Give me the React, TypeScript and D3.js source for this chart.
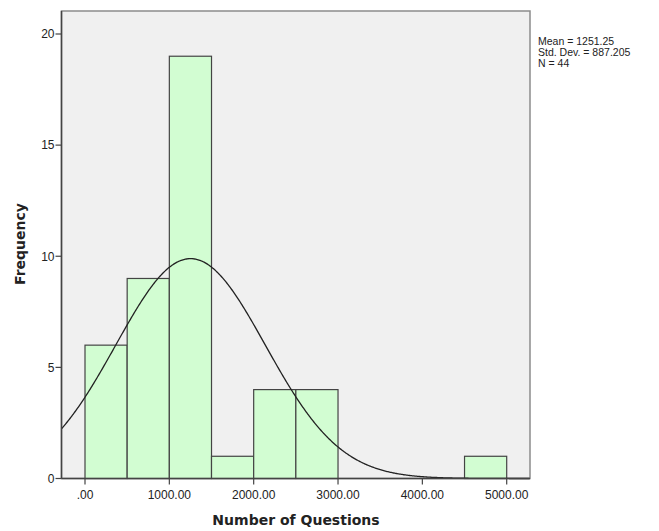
import React from "react";
import * as d3 from "d3";

const binStarts = [0, 500, 1000, 1500, 2000, 2500, 4500];
const binCounts = [6, 9, 19, 1, 4, 4, 1];
const binWidth = 500;
const xTicks = [0, 1000, 2000, 3000, 4000, 5000];
const yTicks = [0, 5, 10, 15, 20];
const meanValue = 1251.25;
const sdValue = 887.205;
const nValue = 44;
const legendLines = ["Mean = 1251.25", "Std. Dev. = 887.205", "N = 44"];

const W = 659, H = 531;
const left = 61.5, right = 530, top = 11, bottom = 478.5;

export default function App() {
  const x = d3.scaleLinear().domain([0, 5000]).range([85, 506.7]);
  const y = d3.scaleLinear().domain([0, 20]).range([bottom, 34]);
  const xMin = x.invert(left), xMax = x.invert(right);
  const pdf = (v: number) =>
    (nValue * binWidth) / (sdValue * Math.sqrt(2 * Math.PI)) *
    Math.exp(-0.5 * ((v - meanValue) / sdValue) ** 2);
  const pts = d3.range(xMin, xMax, 10).map((v) => [v, pdf(v)] as [number, number]);
  const line = d3.line<[number, number]>().x((d) => x(d[0])).y((d) => y(d[1]));
  const font = "'Liberation Sans', Arial, sans-serif";
  const boldFont = "'DejaVu Sans', Verdana, sans-serif";
  return (
    <svg width={W} height={H} style={{ position: "absolute", left: 0, top: 0, background: "#fff" }} fontFamily={font}>
      <rect x={left} y={top} width={right - left} height={bottom - top} fill="#f0f0f0" stroke="#8c8c8c" strokeWidth={1.5} />
      {binStarts.map((s, i) => (
        <rect key={i} x={x(s)} y={y(binCounts[i])} width={x(s + binWidth) - x(s)} height={y(0) - y(binCounts[i])}
          fill="#d2fdd2" stroke="#444" strokeWidth={1.2} />
      ))}
      <path d={line(pts) || ""} fill="none" stroke="#222" strokeWidth={1.3} />
      <line x1={left} x2={left} y1={top} y2={bottom} stroke="#444" strokeWidth={1.5} />
      <line x1={left} x2={right} y1={bottom} y2={bottom} stroke="#444" strokeWidth={1.5} />
      {yTicks.map((t) => (
        <g key={t}>
          <line x1={left - 6} x2={left} y1={y(t)} y2={y(t)} stroke="#444" strokeWidth={1.2} />
          <text x={left - 7} y={y(t) + 4.3} textAnchor="end" fontSize={12} fill="#222">{t}</text>
        </g>
      ))}
      {xTicks.map((t) => (
        <g key={t}>
          <line x1={x(t)} x2={x(t)} y1={bottom} y2={bottom + 6} stroke="#444" strokeWidth={1.2} />
          <text x={x(t)} y={bottom + 20.5} textAnchor="middle" fontSize={12} fill="#222">{d3.format(".2f")(t).replace(/^0/, "")}</text>
        </g>
      ))}
      <text x={296} y={525} textAnchor="middle" fontSize={14} fontWeight="bold" fill="#222" fontFamily={boldFont}>Number of Questions</text>
      <text transform={`translate(25,244) rotate(-90)`} textAnchor="middle" fontSize={14} fontWeight="bold" fill="#222" fontFamily={boldFont}>Frequency</text>
      {legendLines.map((l, i) => (
        <text key={i} x={538} y={44.5 + i * 11} fontSize={10.5} fill="#222">{l}</text>
      ))}
    </svg>
  );
}
